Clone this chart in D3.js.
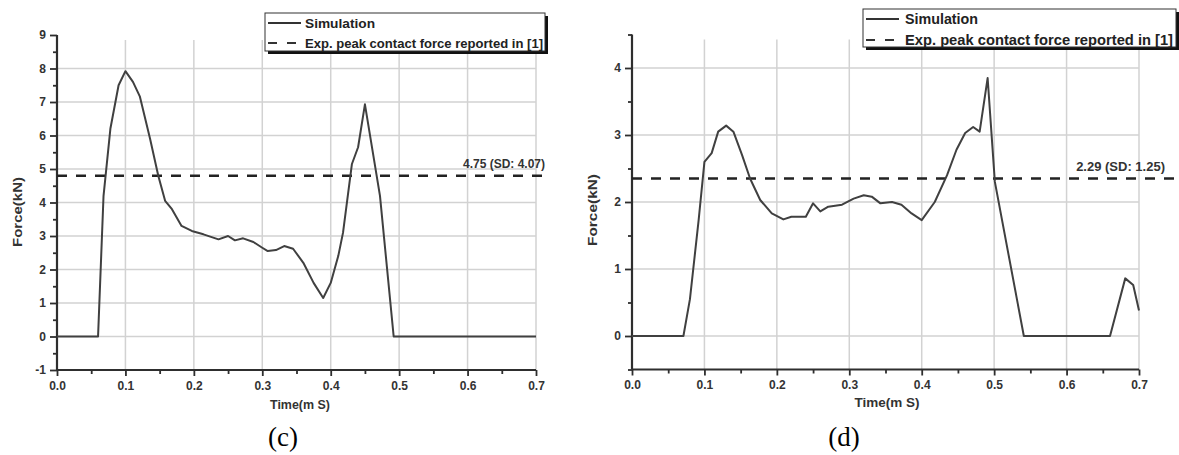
<!DOCTYPE html>
<html><head><meta charset="utf-8">
<script src="https://cdn.jsdelivr.net/npm/d3@7"></script>
<style>body{margin:0;background:#fff}svg{display:block}</style>
</head><body>
<svg id="chart" width="1179" height="455"></svg>
<script>
// ---------- data ----------
const timeC  = [0,0.06,0.068,0.078,0.09,0.1,0.111,0.121,0.136,0.148,0.158,0.168,0.182,0.197,0.214,0.236,0.25,0.26,0.272,0.287,0.3,0.308,0.32,0.332,0.345,0.36,0.375,0.389,0.4,0.411,0.418,0.431,0.44,0.45,0.472,0.492,0.7];
const forceC = [0,0,4.2,6.2,7.5,7.92,7.6,7.17,5.9,4.8,4.05,3.8,3.3,3.15,3.05,2.9,3.0,2.87,2.93,2.82,2.65,2.55,2.58,2.7,2.62,2.2,1.6,1.15,1.6,2.4,3.1,5.15,5.65,6.93,4.2,0,0];
const timeD  = [0,0.071,0.08,0.092,0.1,0.11,0.119,0.13,0.14,0.152,0.163,0.177,0.193,0.209,0.22,0.24,0.25,0.26,0.271,0.29,0.306,0.32,0.331,0.343,0.359,0.372,0.386,0.4,0.418,0.435,0.448,0.46,0.471,0.48,0.491,0.501,0.541,0.66,0.681,0.692,0.7];
const forceD = [0,0,0.55,1.73,2.6,2.73,3.05,3.14,3.05,2.7,2.35,2.03,1.83,1.74,1.78,1.78,1.98,1.86,1.93,1.96,2.05,2.1,2.08,1.98,2.0,1.96,1.83,1.73,2.0,2.4,2.78,3.03,3.12,3.05,3.85,2.3,0,0,0.86,0.76,0.38];
const xTicks      = [0,0.1,0.2,0.3,0.4,0.5,0.6,0.7];
const xTickLabels = ["0.0","0.1","0.2","0.3","0.4","0.5","0.6","0.7"];
const xMinorTicks = [0.05,0.15,0.25,0.35,0.45,0.55,0.65];
const yTicksC      = [-1,0,1,2,3,4,5,6,7,8,9];
const yMinorTicksC = [-0.5,0.5,1.5,2.5,3.5,4.5,5.5,6.5,7.5,8.5];
const yGridC       = [0,1,2,3,4,5,6,7,8];
const yTicksD      = [0,1,2,3,4];
const yMinorTicksD = [-0.5,0.5,1.5,2.5,3.5,4.5];
const yGridD       = [0,1,2,3,4];
const expLevels    = [4.8, 2.35];
const expLabels    = ["4.75 (SD: 4.07)", "2.29 (SD: 1.25)"];
const legendLabels = ["Simulation", "Exp. peak contact force reported in [1]"];
const panelLabels  = ["(c)", "(d)"];
const xTitle = "Time(m S)";
const yTitle = "Force(kN)";

// ---------- drawing ----------
const svg = d3.select("#chart");
const SANS = "'Liberation Sans', Arial, Helvetica, sans-serif";
const SERIF = "'Liberation Serif', 'Times New Roman', serif";
const AX = "#2e2e2e", GRID = "#d2d2d2", LINE = "#404040";

function drawPanel(p) {
  const g = svg.append("g");
  const x = d3.scaleLinear().domain([0, 0.7]).range(p.xRange);
  const y = d3.scaleLinear().domain(p.yDomain).range(p.yRange);
  const [xl, xr] = p.xRange;
  const [yb, yt] = p.yRange;

  // grid
  g.selectAll(".vg").data(xTicks.slice(1)).join("line")
    .attr("x1", d => x(d)).attr("x2", d => x(d))
    .attr("y1", yb).attr("y2", yt + 5)
    .attr("stroke", GRID).attr("stroke-width", 1.5);
  g.selectAll(".hg").data(p.yGrid).join("line")
    .attr("x1", xl).attr("x2", xr)
    .attr("y1", d => y(d)).attr("y2", d => y(d))
    .attr("stroke", GRID).attr("stroke-width", 1.5);

  // axes
  const xAxis = d3.axisBottom(x).tickValues(xTicks).tickSize(6).tickPadding(5)
    .tickFormat((d, i) => xTickLabels[i]);
  const xa = g.append("g").attr("transform", `translate(0,${yb})`).call(xAxis);
  const xm = g.append("g").attr("transform", `translate(0,${yb})`)
    .call(d3.axisBottom(x).tickValues(xMinorTicks).tickSize(4).tickFormat(""));
  const yAxis = d3.axisLeft(y).tickValues(p.yTicks).tickSize(7).tickPadding(4)
    .tickFormat(d => String(d));
  const ya = g.append("g").attr("transform", `translate(${xl},0)`).call(yAxis);
  const ym = g.append("g").attr("transform", `translate(${xl},0)`)
    .call(d3.axisLeft(y).tickValues(p.yMinor).tickSize(4).tickFormat(""));
  [xa, xm, ya, ym].forEach(a => {
    a.select(".domain").attr("stroke", AX).attr("stroke-width", 2.2);
    a.selectAll(".tick line").attr("stroke", AX).attr("stroke-width", 1.8);
    a.selectAll("text").attr("fill", "#333").attr("font-family", SANS)
      .attr("font-size", 12).attr("font-weight", "bold");
  });
  xm.select(".domain").remove(); ym.select(".domain").remove();
  xa.select(".domain").attr("d", `M${xl},0H${xr}`);
  ya.select(".domain").attr("d", `M0,${yb}V${yt}`);

  // dashed experimental line
  g.append("line")
    .attr("x1", xl).attr("x2", p.dashEnd)
    .attr("y1", y(p.exp)).attr("y2", y(p.exp))
    .attr("stroke", "#222").attr("stroke-width", 2.4)
    .attr("stroke-dasharray", "10,9");
  g.append("text").text(p.expLabel)
    .attr("x", p.expLabelX).attr("y", y(p.exp) - 8)
    .attr("text-anchor", "end").attr("font-family", SANS)
    .attr("font-size", p.expFont).attr("font-weight", "bold").attr("fill", "#333");

  // simulation curve
  const pts = p.t.map((t, i) => [t, p.f[i]]);
  g.append("path").datum(pts)
    .attr("d", d3.line().x(d => x(d[0])).y(d => y(d[1])))
    .attr("fill", "none").attr("stroke", LINE).attr("stroke-width", 2)
    .attr("stroke-linejoin", "round");

  // axis titles
  g.append("text").text(xTitle)
    .attr("x", p.xTitlePos[0]).attr("y", p.xTitlePos[1])
    .attr("text-anchor", "middle").attr("font-family", SANS)
    .attr("font-size", 13).attr("font-weight", "bold").attr("fill", "#333")
    .attr("textLength", p.xTitleLen).attr("lengthAdjust", "spacingAndGlyphs");
  g.append("text").text(yTitle)
    .attr("transform", `translate(${p.yTitlePos[0]},${p.yTitlePos[1]}) rotate(-90)`)
    .attr("text-anchor", "middle").attr("font-family", SANS)
    .attr("font-size", 13).attr("font-weight", "bold").attr("fill", "#333")
    .attr("textLength", p.yTitleLen).attr("lengthAdjust", "spacingAndGlyphs");

  // legend
  const L = p.legend;
  g.append("rect").attr("x", L.x + 3).attr("y", L.y + 3).attr("width", L.w).attr("height", L.h)
    .attr("fill", "#111");
  g.append("rect").attr("x", L.x).attr("y", L.y).attr("width", L.w).attr("height", L.h)
    .attr("fill", "#fff").attr("stroke", "#333").attr("stroke-width", 1);
  legendLabels.forEach((lab, i) => {
    const cy = L.y + L.rows[i];
    g.append("line").attr("x1", L.x + 3).attr("x2", L.x + 36)
      .attr("y1", cy).attr("y2", cy)
      .attr("stroke", "#333").attr("stroke-width", 2)
      .attr("stroke-dasharray", i === 1 ? "9,10" : null);
    g.append("text").text(lab)
      .attr("x", L.x + L.tx).attr("y", cy + L.font * 0.36)
      .attr("font-family", SANS).attr("font-size", L.font).attr("font-weight", "bold")
      .attr("fill", "#222")
      .attr("textLength", L.lens[i]).attr("lengthAdjust", "spacingAndGlyphs");
  });

  // panel label
  svg.append("text").text(p.panelLabel)
    .attr("x", p.panelPos[0]).attr("y", p.panelPos[1])
    .attr("text-anchor", "middle").attr("font-family", SERIF)
    .attr("font-size", 27).attr("fill", "#000");
}

drawPanel({
  t: timeC, f: forceC,
  xRange: [57, 536], yDomain: [-1, 9], yRange: [370, 35],
  yTicks: yTicksC, yMinor: yMinorTicksC, yGrid: yGridC,
  exp: expLevels[0], expLabel: expLabels[0], expLabelX: 545, expFont: 12, dashEnd: 546,
  xTitlePos: [300, 409], xTitleLen: 60,
  yTitlePos: [22, 212], yTitleLen: 70,
  legend: { x: 265, y: 13, w: 280, h: 38, rows: [10, 30], tx: 40, font: 13, lens: [70, 238] },
  panelLabel: panelLabels[0], panelPos: [283, 446]
});
drawPanel({
  t: timeD, f: forceD,
  xRange: [632, 1139], yDomain: [-0.5, 4.5], yRange: [369.5, 34.5],
  yTicks: yTicksD, yMinor: yMinorTicksD, yGrid: yGridD,
  exp: expLevels[1], expLabel: expLabels[1], expLabelX: 1165, expFont: 13, dashEnd: 1179,
  xTitlePos: [887, 407], xTitleLen: 65,
  yTitlePos: [597, 210], yTitleLen: 72,
  legend: { x: 863, y: 9, w: 313, h: 38, rows: [10, 31], tx: 42, font: 14, lens: [73, 268] },
  panelLabel: panelLabels[1], panelPos: [844, 446]
});
</script>
</body></html>
